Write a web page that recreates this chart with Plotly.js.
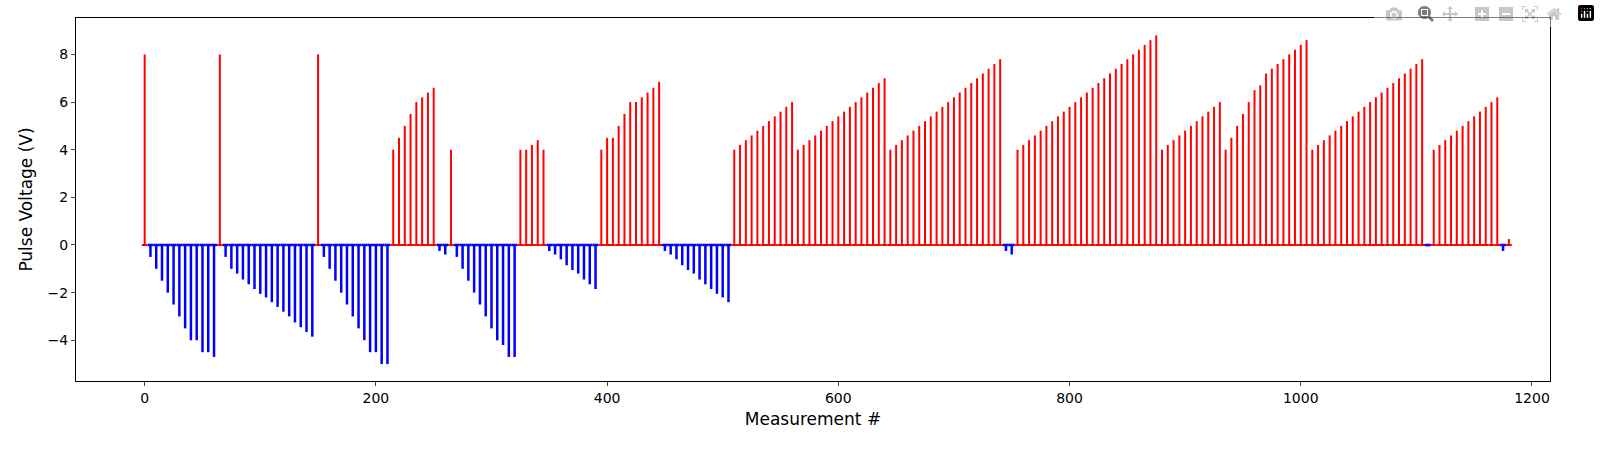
<!DOCTYPE html>
<html>
<head>
<meta charset="utf-8">
<script src="https://cdn.plot.ly/plotly-3.0.1.min.js"></script>
<style>body{margin:0;background:#fff}</style>
</head>
<body>
<div id="chart" style="width:1600px;height:450px"></div>
<script>
// pulse voltages, in measurement order (one pulse every 5 measurements)
const pulseStep = 5;
const setA = [8];
const resetA = [-0.5, -1, -1.5, -2, -2.5, -3, -3.5, -4, -4, -4.5, -4.5, -4.7];
const setB = [8];
const resetB = [-0.5, -1, -1.2, -1.45, -1.65, -1.85, -2.05, -2.2, -2.4, -2.6, -2.8, -3, -3.25, -3.45, -3.65, -3.85];
const setC = [8];
const resetC = [-0.5, -1, -1.5, -2, -2.5, -3, -3.5, -4, -4.5, -4.5, -5, -5];
const setD = [4, 4.5, 5, 5.5, 6, 6.2, 6.4, 6.6];
const readD = [-0.25, -0.4];
const setE = [4];
const resetE = [-0.5, -1, -1.5, -2, -2.5, -3, -3.5, -4, -4.2, -4.7, -4.7];
const setF = [4, 4, 4.2, 4.4, 4];
const resetF = [-0.25, -0.4, -0.6, -0.85, -1.05, -1.2, -1.45, -1.65, -1.85];
const setG = [4, 4.5, 4.5, 5, 5.5, 6, 6, 6.2, 6.4, 6.6, 6.85];
const resetG = [-0.25, -0.4, -0.6, -0.85, -1.05, -1.2, -1.45, -1.65, -1.85, -2.05, -2.2, -2.4];
const rampA = [4, 4.2, 4.4, 4.6, 4.8, 5, 5.2, 5.4, 5.6, 5.8, 6];
const rampB = [4, 4.2, 4.4, 4.6, 4.8, 5, 5.2, 5.4, 5.6, 5.8, 6, 6.2, 6.4, 6.6, 6.8, 7];
const rampC = [4, 4.2, 4.4, 4.6, 4.8, 5, 5.2, 5.4, 5.6, 5.8, 6, 6.2, 6.4, 6.6, 6.8, 7, 7.2, 7.4, 7.6, 7.8];
const readC = [-0.25, -0.4];
const rampD = [4, 4.2, 4.4, 4.6, 4.8, 5, 5.2, 5.4, 5.6, 5.8, 6, 6.2, 6.4, 6.6, 6.8, 7, 7.2, 7.4, 7.6, 7.8, 8, 8.2, 8.4, 8.6, 8.8];
const rampE = [4, 4.2, 4.4, 4.6, 4.8, 5, 5.2, 5.4, 5.6, 5.8, 6];
const rampF = [4, 4.5, 5, 5.5, 6, 6.5, 6.7, 7.2, 7.4, 7.6, 7.8, 8, 8.2, 8.4, 8.6];
const rampG = [4, 4.2, 4.4, 4.6, 4.8, 5, 5.2, 5.4, 5.6, 5.8, 6, 6.2, 6.4, 6.6, 6.8, 7, 7.2, 7.4, 7.6, 7.8];
const readG = [-0.05];
const rampH = [4, 4.2, 4.4, 4.6, 4.8, 5, 5.2, 5.4, 5.6, 5.8, 6, 6.2];
const tail = [-0.25, 0.25];

const volts = [].concat(setA, resetA, setB, resetB, setC, resetC, setD, readD,
  setE, resetE, setF, resetF, setG, resetG, rampA, rampB, rampC, readC,
  rampD, rampE, rampF, rampG, readG, rampH, tail);

// stems plus a baseline piece per pulse, split by sign
const pos = {x: [], y: []};
const neg = {x: [], y: []};
volts.forEach((v, i) => {
  const m = i * pulseStep;
  const t = v >= 0 ? pos : neg;
  t.x.push(m, m, null, m - pulseStep / 2, m + pulseStep / 2, null);
  t.y.push(0, v, null, 0, 0, null);
});

Plotly.newPlot('chart', [{
  x: neg.x, y: neg.y, mode: 'lines', line: {color: '#0000ff', width: 2.5},
  hoverinfo: 'skip',
}, {
  x: pos.x, y: pos.y, mode: 'lines', line: {color: '#ff0000', width: 2},
  hoverinfo: 'skip',
}], {
  width: 1600,
  height: 450,
  margin: {l: 76, r: 50, t: 18, b: 69},
  showlegend: false,
  font: {family: 'DejaVu Sans', size: 14, color: '#000'},
  plot_bgcolor: '#fff',
  paper_bgcolor: '#fff',
  xaxis: {
    range: [-59.4, 1215.6],
    tickvals: [0, 200, 400, 600, 800, 1000, 1200],
    ticks: 'outside', ticklen: 4, showgrid: false, zeroline: false,
    showline: true, mirror: true, linecolor: '#000', linewidth: 1,
    title: {text: 'Measurement #', standoff: 8},
  },
  yaxis: {
    range: [-5.71, 9.53],
    tickvals: [-4, -2, 0, 2, 4, 6, 8],
    ticktext: ['−4', '−2', '0', '2', '4', '6', '8'],
    ticks: 'outside', ticklen: 4, showgrid: false, zeroline: false,
    showline: true, mirror: true, linecolor: '#000', linewidth: 1,
    title: {text: 'Pulse Voltage (V)', standoff: 10},
  },
});
</script>
</body>
</html>
